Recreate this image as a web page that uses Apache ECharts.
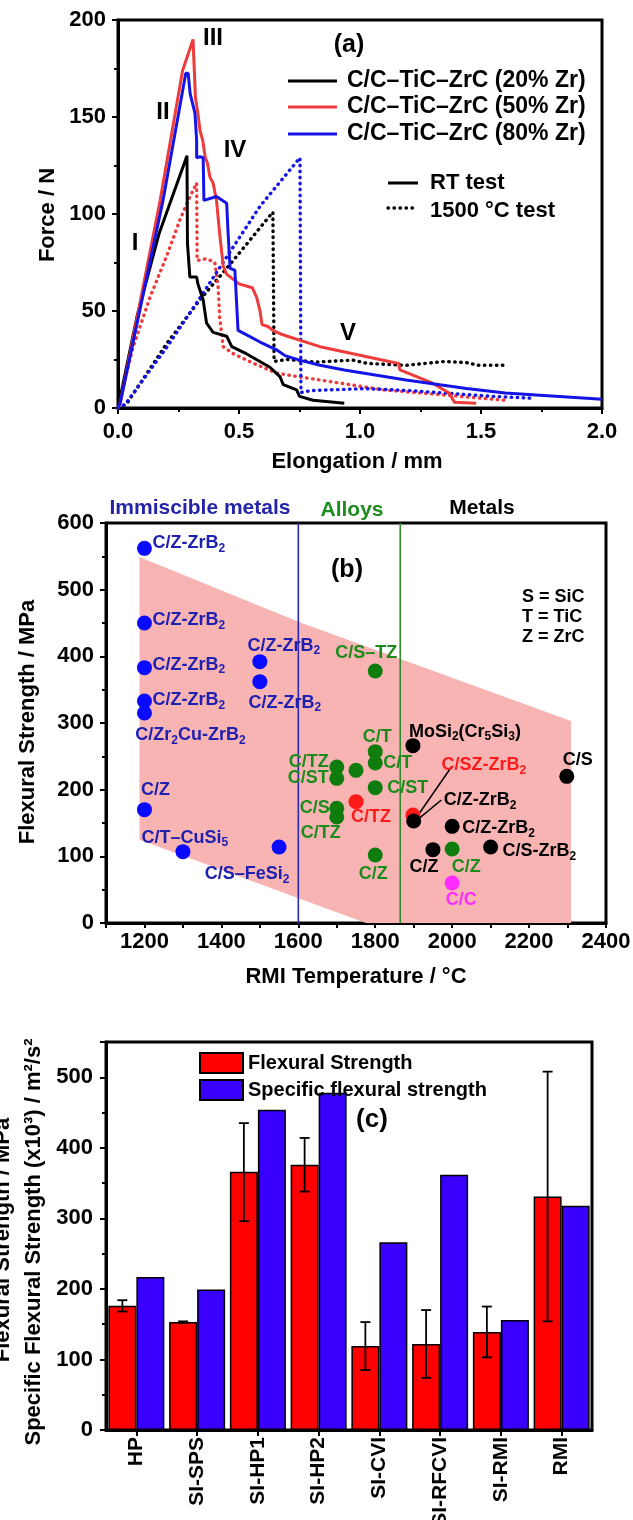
<!DOCTYPE html>
<html>
<head>
<meta charset="utf-8">
<script src="https://cdn.jsdelivr.net/npm/echarts@6.0.0/dist/echarts.min.js"></script>
<style>html,body{margin:0;padding:0;background:#fff}#chart{width:633px;height:1520px}</style>
</head>
<body>
<div id="chart"></div>
<script>
// ---------- (a) force vs elongation, [elongation mm, force N] ----------
const rt20 = [[0,0],[0.08,48],[0.17,90],[0.285,130],[0.287,85],[0.297,67.5],[0.325,67.5],[0.33,64],[0.352,55.7],[0.366,43.7],[0.393,39],[0.449,37],[0.47,31.6],[0.53,28],[0.628,21],[0.67,16],[0.683,12],[0.738,9.3],[0.75,6],[0.806,4],[0.935,2.5]];
const rt50 = [[0,0],[0.01,3],[0.174,107],[0.267,174],[0.31,190],[0.32,160],[0.33,152],[0.339,143],[0.35,138],[0.36,129.5],[0.37,126],[0.38,119],[0.393,116],[0.407,107],[0.42,90],[0.435,73],[0.449,69],[0.50,64],[0.555,62],[0.573,57],[0.587,50],[0.595,43],[0.62,42],[0.64,40],[0.676,38],[0.70,37],[0.75,35],[0.835,31.6],[1.12,24],[1.16,23],[1.165,19.6],[1.30,12.8],[1.37,7.6],[1.39,3],[1.48,2.5]];
const rt80 = [[0,0],[0.01,3],[0.186,107],[0.28,172.5],[0.29,172.5],[0.298,162],[0.318,152],[0.325,138],[0.325,129],[0.339,129.5],[0.352,129],[0.355,107],[0.407,109],[0.449,105.5],[0.455,90],[0.463,72],[0.483,71],[0.496,40],[0.52,38.5],[0.587,34],[0.655,30],[0.69,27],[0.75,24.7],[0.835,22],[0.935,19.6],[1.19,14.4],[1.44,10],[1.6,7.7],[2.0,4.5]];
const ht20 = [[0,0],[0.035,2],[0.2,33],[0.34,56],[0.476,76],[0.64,101],[0.645,24],[0.7,25],[0.82,23.7],[0.97,24.7],[1.03,23],[1.19,22],[1.35,24],[1.44,23.4],[1.49,22],[1.61,22]];
const ht50 = [[0,0],[0.063,31.6],[0.132,57],[0.2,78],[0.256,97],[0.29,107],[0.325,116],[0.327,76],[0.366,77],[0.40,75],[0.414,62],[0.42,47],[0.435,31.6],[0.476,28],[0.56,23],[0.655,18],[0.75,16],[0.835,14.4],[1.10,9.3],[1.35,6.7],[1.60,4]];
const ht80 = [[0,0],[0.03,2],[0.2,31],[0.34,57],[0.476,83],[0.587,104],[0.752,129],[0.756,8],[0.8,9],[1.02,10],[1.2,9],[1.35,7.7],[1.55,6],[1.72,5]];
const seriesNamesA = ['C/C\u2013TiC\u2013ZrC (20% Zr)','C/C\u2013TiC\u2013ZrC (50% Zr)','C/C\u2013TiC\u2013ZrC (80% Zr)'];

// ---------- (b) flexural strength vs RMI temperature ----------
const immName = ['C/Z-ZrB_2','C/Z-ZrB_2','C/Z-ZrB_2','C/Z-ZrB_2','C/Zr_2Cu-ZrB_2','C/Z-ZrB_2','C/Z-ZrB_2','C/Z','C/T\u2013CuSi_5','C/S\u2013FeSi_2'];
const immT = [1200,1200,1200,1200,1200,1500,1500,1200,1300,1550];
const immS = [562,450,383,333,315,392,362,170,107,114];
const alloyName = ['C/S\u2013TZ','C/T','C/T','C/ST','C/Z','C/TZ','C/ST','','C/S','C/TZ','C/Z'];
const alloyT = [1800,1800,1800,1800,1800,1700,1700,1750,1700,1700,2000];
const alloyS = [378,257,240,203,102,234,217,229,172,159,111];
const redName = ['C/TZ','C/SZ-ZrB_2'];
const redT = [1750,1898];
const redS = [182,162];
const metalName = ['MoSi_2(Cr_5Si_3)','C/S','C/Z-ZrB_2','C/Z-ZrB_2','C/S-ZrB_2','C/Z'];
const metalT = [1898,2298,1900,2000,2100,1950];
const metalS = [266,220,153,145,114,110];
const ccName = ['C/C'];
const ccT = [2000];
const ccS = [60];
// group boundaries (°C) and the shaded band outline [°C, MPa]
const boundaryT = [1600, 1865];
const bandT = [1187,1600,2309,2309,1776,1187];
const bandS = [549,452,303,0,0,125];
// leader lines [°C, MPa] from label to point
const leaders = [[[1998,234],[1908,159]],[[1972,184.5],[1914,157]]];

// ---------- (c) bar chart ----------
const routes = ['HP','SI-SPS','SI-HP1','SI-HP2','SI-CVI','SI-RFCVI','SI-RMI','RMI'];
const flexural = [176,153,366,376,119,122,139,331];
const specific = [217,199,454,478,266,362,156,318];
const errLow = [168,152,296,338,85,74,103,154];
const errHigh = [184,154,435,414,153,170,175,508];

// ---------- label placement for (b): [dx, dy, align] ----------
const immLay = [[8,-5,'left'],[8,-3,'left'],[8,-3,'left'],[8,-1,'left'],[46,22,'center'],[24,-16,'center'],[25,21,'center'],[11,-20,'center'],[2,-14,'center'],[-32,27,'center']];
const alloyLay = [[-9,-18,'center'],[2,-15,'center'],[8,0,'left'],[12,0,'left'],[-2,19,'center'],[-8,-5,'right'],[-8,0,'right'],null,[-7,0,'right'],[-16,16,'center'],[14,18,'center']];
const redLay = [[15,15,'center'],[71,-50,'center']];
const metalLay = [[-4,-14,'left'],[11,-16,'center'],[30,-21,'left'],[10,2,'left'],[12,4,'left'],[-9,17,'center']];
const ccLay = [[9,17,'center']];

const F = '"Liberation Sans", Arial, sans-serif';
const BLACK = '#000';

// "_2" in a label becomes a subscript 2
function sub(s) { return s.replace(/_(\d)/g, '{s|$1}'); }

function points(names, xs, ys, lay) {
  return names.map((n, i) => ({
    name: n,
    value: [xs[i], ys[i]],
    label: lay[i] ? { show: n !== '', offset: [lay[i][0], lay[i][1]], align: lay[i][2] } : { show: false }
  }));
}

function scatterSeries(names, xs, ys, lay, dot, textColor) {
  return {
    type: 'scatter', xAxisIndex: 1, yAxisIndex: 1, symbolSize: 15, z: 5,
    itemStyle: { color: dot, opacity: 1 },
    data: points(names, xs, ys, lay),
    label: {
      show: true, position: 'inside', verticalAlign: 'middle',
      color: textColor, fontSize: 18, fontWeight: 'bold', fontFamily: F,
      formatter: p => sub(p.name),
      rich: { s: { fontSize: 12, padding: [11, 0, 0, 0], fontWeight: 'bold', fontFamily: F, color: textColor } }
    },
    emphasis: { disabled: true }
  };
}

function txt(x, y, s, size, opt) {
  opt = opt || {};
  const al = opt.align || 'center';
  return {
    type: 'text', x: x, y: y, z: 100, rotation: opt.rot || 0,
    style: {
      text: s, fill: opt.color || BLACK, font: 'bold ' + size + 'px ' + F,
      align: al, textAlign: al, verticalAlign: 'middle', textVerticalAlign: 'middle'
    }
  };
}
function seg(x1, y1, x2, y2, color, dotted) {
  return {
    type: 'line', z: 100, shape: { x1, y1, x2, y2 },
    style: dotted ? { stroke: color, lineWidth: 3.4, lineDash: [0.5, 5.5], lineCap: 'round' }
                  : { stroke: color, lineWidth: 3 }
  };
}

function valueAxis(gi, min, max, interval, extra) {
  return Object.assign({
    type: 'value', gridIndex: gi, min, max, interval,
    axisLine: { show: true, onZero: false, lineStyle: { color: BLACK, width: 3 } },
    axisTick: { show: true, length: 6, lineStyle: { color: BLACK, width: 2 } },
    minorTick: { show: true, splitNumber: 2, length: 4, lineStyle: { color: BLACK, width: 2 } },
    splitLine: { show: false }, minorSplitLine: { show: false },
    axisLabel: { color: BLACK, fontSize: 22, fontWeight: 'bold', fontFamily: F, margin: 12 }
  }, extra || {});
}

const red = '#ee3b3b', blue = '#1414e6';
const lineA = (name, data, color, dotted, z) => ({
  type: 'line', name, xAxisIndex: 0, yAxisIndex: 0, data, symbol: 'none', z,
  lineStyle: dotted ? { color, width: 3.4, type: [0.5, 5.5], cap: 'round' } : { color, width: 3 },
  emphasis: { disabled: true }
});

const chart = echarts.init(document.getElementById('chart'), null, { renderer: 'canvas' });
chart.setOption({
  animation: false,
  backgroundColor: '#fff',
  textStyle: { fontFamily: F },
  grid: [
    { left: 118, top: 20, width: 484, height: 388, show: true, borderColor: BLACK, borderWidth: 3, outerBoundsMode: 'none' },
    { left: 106, top: 523, width: 500, height: 400, show: true, borderColor: BLACK, borderWidth: 3, outerBoundsMode: 'none' },
    { left: 106, top: 1042, width: 486, height: 388, show: true, borderColor: BLACK, borderWidth: 3, outerBoundsMode: 'none' }
  ],
  xAxis: [
    valueAxis(0, 0, 2, 0.5, { axisLabel: { color: BLACK, fontSize: 22, fontWeight: 'bold', fontFamily: F, margin: 13, formatter: v => v.toFixed(1) } }),
    valueAxis(1, 1100, 2400, 100, {
      minorTick: { show: false },
      axisTick: { show: true, length: 5, lineStyle: { color: BLACK, width: 2 } },
      axisLabel: { color: BLACK, fontSize: 22, fontWeight: 'bold', fontFamily: F, margin: 8, formatter: v => (v % 200 === 0 ? String(v) : '') }
    }),
    {
      type: 'category', gridIndex: 2, data: routes,
      axisLine: { show: true, lineStyle: { color: BLACK, width: 3 } },
      axisTick: { show: true, alignWithLabel: true, length: 6, lineStyle: { color: BLACK, width: 2 } },
      axisLabel: { color: BLACK, fontSize: 21, fontWeight: 'bold', fontFamily: F, rotate: 90, margin: 7, interval: 0 },
      splitLine: { show: false }
    }
  ],
  yAxis: [
    valueAxis(0, 0, 200, 50),
    valueAxis(1, 0, 600, 100, { axisLabel: { color: BLACK, fontSize: 22, fontWeight: 'bold', fontFamily: F, margin: 12 } }),
    valueAxis(2, 0, 550, 100, { axisLabel: { color: BLACK, fontSize: 22, fontWeight: 'bold', fontFamily: F, margin: 13, showMaxLabel: false } })
  ],
  legend: {
    orient: 'vertical', left: 194, top: 1047, itemWidth: 43, itemHeight: 20, itemGap: 5,
    icon: 'rect', selectedMode: false,
    data: ['Flexural Strength', 'Specific flexural strength'],
    textStyle: { color: BLACK, fontSize: 20, fontWeight: 'bold', fontFamily: F }
  },
  series: [
    // (a)
    lineA(seriesNamesA[0] + ' 1500', ht20, BLACK, true, 2),
    lineA(seriesNamesA[1] + ' 1500', ht50, red, true, 2),
    lineA(seriesNamesA[2] + ' 1500', ht80, blue, true, 2),
    lineA(seriesNamesA[0], rt20, BLACK, false, 3),
    lineA(seriesNamesA[1], rt50, red, false, 3),
    lineA(seriesNamesA[2], rt80, blue, false, 4),
    // (b) shaded band
    {
      type: 'custom', xAxisIndex: 1, yAxisIndex: 1, z: 1, silent: true,
      data: bandT.map((t, i) => [t, bandS[i]]),
      encode: { x: 0, y: 1 },
      renderItem: (params, api) => {
        if (params.dataIndex !== 0) return null;
        const pts = bandT.map((t, i) => api.coord([t, bandS[i]]));
        return { type: 'polygon', shape: { points: pts }, style: { fill: '#f8b3b3' } };
      }
    },
    // (b) group boundaries
    { type: 'line', xAxisIndex: 1, yAxisIndex: 1, z: 2, symbol: 'none', silent: true,
      data: [[boundaryT[0], 0], [boundaryT[0], 600]], lineStyle: { color: '#2b2bb8', width: 1.6 } },
    { type: 'line', xAxisIndex: 1, yAxisIndex: 1, z: 2, symbol: 'none', silent: true,
      data: [[boundaryT[1], 0], [boundaryT[1], 600]], lineStyle: { color: '#2a8c2a', width: 1.6 } },
    // (b) leader lines
    ...leaders.map(l => ({ type: 'line', xAxisIndex: 1, yAxisIndex: 1, z: 3, symbol: 'none', silent: true,
      data: l, lineStyle: { color: BLACK, width: 1.5 } })),
    // (b) points
    scatterSeries(immName, immT, immS, immLay, '#0a0aff', '#2020b0'),
    scatterSeries(alloyName, alloyT, alloyS, alloyLay, '#0e7d0e', '#1b8c1b'),
    scatterSeries(redName, redT, redS, redLay, '#ff1a1a', '#ff1a1a'),
    scatterSeries(metalName, metalT, metalS, metalLay, '#000000', '#000000'),
    scatterSeries(ccName, ccT, ccS, ccLay, '#ff2cff', '#ff2cff'),
    // (c) bars
    { type: 'bar', name: 'Flexural Strength', xAxisIndex: 2, yAxisIndex: 2, data: flexural,
      barWidth: 28, barGap: '0%', itemStyle: { color: '#ff0000', borderColor: BLACK, borderWidth: 1.5 },
      emphasis: { disabled: true } },
    { type: 'bar', name: 'Specific flexural strength', xAxisIndex: 2, yAxisIndex: 2, data: specific,
      barWidth: 28, barGap: '0%', itemStyle: { color: '#3a00ff', borderColor: BLACK, borderWidth: 1.5 },
      emphasis: { disabled: true } },
    // (c) error bars on the flexural strength bars
    { type: 'custom', xAxisIndex: 2, yAxisIndex: 2, z: 10, silent: true,
      data: routes.map((r, i) => [i, errLow[i], errHigh[i]]),
      encode: { x: 0, y: [1, 2] },
      renderItem: (params, api) => {
        const lo = api.coord([api.value(0), api.value(1)]);
        const hi = api.coord([api.value(0), api.value(2)]);
        const x = lo[0] - 14, w = 5;
        const st = { stroke: BLACK, lineWidth: 1.8 };
        return { type: 'group', children: [
          { type: 'line', shape: { x1: x, y1: lo[1], x2: x, y2: hi[1] }, style: st },
          { type: 'line', shape: { x1: x - w, y1: hi[1], x2: x + w, y2: hi[1] }, style: st },
          { type: 'line', shape: { x1: x - w, y1: lo[1], x2: x + w, y2: lo[1] }, style: st }
        ] };
      }
    }
  ],
  graphic: [
    // (a) annotations
    txt(48, 215, 'Force / N', 22, { rot: Math.PI / 2 }),
    txt(357, 462, 'Elongation / mm', 22),
    txt(349, 45, '(a)', 25),
    txt(135, 243, 'I', 24), txt(163, 112, 'II', 24), txt(213, 38, 'III', 24),
    txt(235, 150, 'IV', 24), txt(348, 333, 'V', 24),
    seg(288, 81, 337, 81, BLACK), txt(347, 81, seriesNamesA[0], 23, { align: 'left' }),
    seg(288, 107, 337, 107, red), txt(347, 107, seriesNamesA[1], 23, { align: 'left' }),
    seg(288, 134, 337, 134, blue), txt(347, 134, seriesNamesA[2], 23, { align: 'left' }),
    seg(388, 183, 418, 183, BLACK), txt(430, 183, 'RT test', 22, { align: 'left' }),
    seg(388, 208, 418, 208, BLACK, true), txt(430, 211, '1500 \u00b0C test', 22, { align: 'left' }),
    // (b) annotations
    txt(200, 508, 'Immiscible metals', 21, { color: '#2424a8' }),
    txt(352, 510, 'Alloys', 21, { color: '#1e8c1e' }),
    txt(482, 508, 'Metals', 21),
    txt(347, 570, '(b)', 25),
    txt(522, 597, 'S = SiC', 18, { align: 'left' }),
    txt(522, 617, 'T = TiC', 18, { align: 'left' }),
    txt(522, 637, 'Z = ZrC', 18, { align: 'left' }),
    txt(28, 722, 'Flexural Strength / MPa', 22, { rot: Math.PI / 2 }),
    txt(356, 977, 'RMI Temperature / \u00b0C', 22),
    // (c) annotations
    txt(372, 1120, '(c)', 26),
    txt(3, 1240, 'Flexural Strength / MPa', 22, { rot: Math.PI / 2 }),
    txt(34, 1242, 'Specific Flexural Strength (x10\u00b3) / m\u00b2/s\u00b2', 22, { rot: Math.PI / 2 })
  ]
});
</script>
</body>
</html>
